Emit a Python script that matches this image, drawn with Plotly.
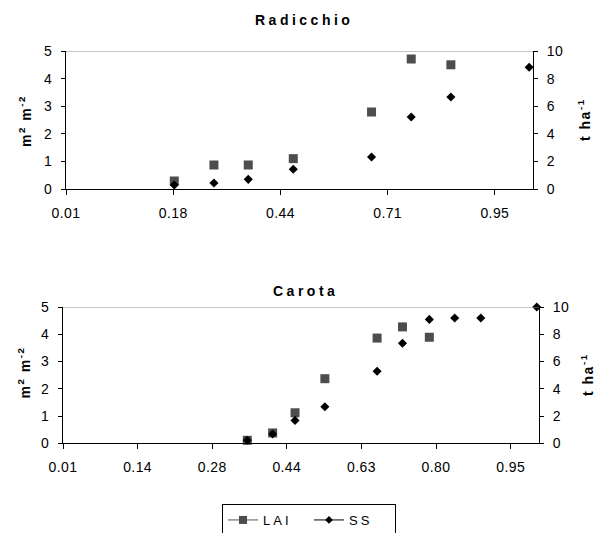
import plotly.graph_objects as go

# ---- data (x in positions along the evenly-spaced labelled axis) ----
rad_ticklabels = ["0.01", "0.18", "0.44", "0.71", "0.95"]
rad_x_lai = [1.01, 1.38, 1.70, 2.12, 2.85, 3.22, 3.59]
rad_lai = [0.29, 0.87, 0.87, 1.10, 2.79, 4.71, 4.50]
rad_x_ss = [1.01, 1.38, 1.70, 2.12, 2.85, 3.22, 3.59, 4.32]
rad_ss = [0.29, 0.43, 0.70, 1.43, 2.32, 5.22, 6.67, 8.82]

car_ticklabels = ["0.01", "0.14", "0.28", "0.44", "0.63", "0.80", "0.95"]
car_x_lai = [2.47, 2.81, 3.11, 3.51, 4.21, 4.55, 4.91]
car_lai = [0.11, 0.38, 1.12, 2.37, 3.86, 4.27, 3.89]
car_x_ss = [2.47, 2.81, 3.11, 3.51, 4.21, 4.55, 4.91, 5.25, 5.60, 6.35]
car_ss = [0.22, 0.68, 1.68, 2.68, 5.29, 7.34, 9.09, 9.19, 9.19, 10.0]

left_ticks = [0, 1, 2, 3, 4, 5]
right_ticks = [0, 2, 4, 6, 8, 10]

FONT = "Arial, Liberation Sans, sans-serif"
W, H = 602, 533
LAI_COLOR = "#4d4d4d"
SS_COLOR = "#000000"


def sp(t, ls=2):
    return f'<span style="letter-spacing:{ls}px">{t}</span>'


fig = go.Figure()

sq = dict(symbol="square", size=9, color=LAI_COLOR)
dm = dict(symbol="diamond", size=7, color=SS_COLOR)

fig.add_trace(go.Scatter(x=rad_x_lai, y=rad_lai, mode="markers", marker=sq,
                         xaxis="x", yaxis="y", showlegend=False, cliponaxis=False))
fig.add_trace(go.Scatter(x=rad_x_ss, y=rad_ss, mode="markers", marker=dm,
                         xaxis="x", yaxis="y2", showlegend=False, cliponaxis=False))
fig.add_trace(go.Scatter(x=car_x_lai, y=car_lai, mode="markers", marker=sq,
                         xaxis="x2", yaxis="y3", showlegend=False, cliponaxis=False))
fig.add_trace(go.Scatter(x=car_x_ss, y=car_ss, mode="markers", marker=dm,
                         xaxis="x2", yaxis="y4", showlegend=False, cliponaxis=False))
# legend entries
fig.add_trace(go.Scatter(x=[None], y=[None], mode="lines+markers", name=sp("LAI", 3),
                         marker=dict(symbol="square", size=8, color=LAI_COLOR),
                         line=dict(color="#555555", width=1), xaxis="x", yaxis="y"))
fig.add_trace(go.Scatter(x=[None], y=[None], mode="lines+markers", name=sp("SS", 3),
                         marker=dict(symbol="diamond", size=6, color=SS_COLOR),
                         line=dict(color="#000000", width=1), xaxis="x", yaxis="y"))

# domains (pixels -> paper)
top_x = [66 / W, 533 / W]
top_y = [1 - 189 / H, 1 - 51 / H]
bot_x = [63 / W, 539 / W]
bot_y = [1 - 443.3 / H, 1 - 307 / H]

rad_range = [0, 4.356]
car_range = [0, 6.38]

tickfont = dict(family=FONT, size=14, color="#000")


def xax(domain, anchor, rng, labels, ticks="outside", overlay=None, show=True):
    d = dict(domain=domain, anchor=anchor, range=rng, tickmode="array",
             tickvals=list(range(len(labels))),
             ticktext=[sp(t, 0.4) for t in labels], ticks=ticks, ticklen=5,
             tickcolor="#000", tickwidth=1, showgrid=False, zeroline=False,
             showline=show, linecolor="#000", linewidth=1,
             showticklabels=show, tickfont=tickfont, ticklabelstandoff=6)
    if overlay:
        d["overlaying"] = overlay
        d.pop("domain")
    return d


def yax(domain, anchor, vals, side, ticks="outside", overlay=None, show=True):
    d = dict(domain=domain, anchor=anchor, range=[vals[0], vals[-1]],
             tickmode="array", tickvals=vals, ticktext=[sp(str(v), 0.4) for v in vals],
             side=side, ticks=ticks, ticklen=4, tickcolor="#000", tickwidth=1,
             showgrid=False, zeroline=False, showline=show, linecolor="#000",
             linewidth=1, showticklabels=show, tickfont=tickfont,
             ticklabelstandoff=6)
    if overlay:
        d["overlaying"] = overlay
        d.pop("domain")
    return d


fig.update_layout(
    width=W, height=H,
    margin=dict(l=0, r=0, t=0, b=0, autoexpand=False),
    paper_bgcolor="white", plot_bgcolor="white",
    font=dict(family=FONT, color="#000"),
    xaxis=xax(top_x, "y", rad_range, rad_ticklabels),
    yaxis=yax(top_y, "x", left_ticks, "left"),
    yaxis2=yax(top_y, "x", right_ticks, "right", overlay="y"),
    xaxis2=xax(bot_x, "y3", car_range, car_ticklabels),
    yaxis3=yax(bot_y, "x2", left_ticks, "left"),
    yaxis4=yax(bot_y, "x2", right_ticks, "right", overlay="y3"),
    # inside tick overlays (cross ticks)
    xaxis3=xax(top_x, "y", rad_range, rad_ticklabels, ticks="inside", overlay="x", show=False),
    xaxis4=xax(bot_x, "y3", car_range, car_ticklabels, ticks="inside", overlay="x2", show=False),
    yaxis5=yax(top_y, "x", left_ticks, "left", ticks="inside", overlay="y", show=False),
    yaxis6=yax(top_y, "x", right_ticks, "right", ticks="inside", overlay="y", show=False),
    yaxis7=yax(bot_y, "x2", left_ticks, "left", ticks="inside", overlay="y3", show=False),
    yaxis8=yax(bot_y, "x2", right_ticks, "right", ticks="inside", overlay="y3", show=False),
    legend=dict(orientation="h", x=222 / W, xanchor="left", y=1 - 504 / H, yanchor="top",
                bordercolor="#000", borderwidth=1, bgcolor="white",
                font=dict(family=FONT, size=13, color="#000"),
                itemwidth=30, tracegroupgap=0, entrywidth=41, entrywidthmode="pixels"),
    showlegend=True,
)

# gray line on top of each plot area
fig.add_shape(type="line", xref="x domain", yref="y", x0=0, x1=1, y0=5, y1=5,
              line=dict(color="#8c8c8c", width=1))
fig.add_shape(type="line", xref="x2 domain", yref="y3", x0=0, x1=1, y0=5, y1=5,
              line=dict(color="#8c8c8c", width=1))

bold = dict(family=FONT, size=14, color="#000", weight="bold")
lab = dict(family=FONT, size=14, color="#000", weight="bold")
ann = [
    dict(text=sp("Radicchio", 3.5), x=304 / W, y=1 - 19.5 / H, font=bold),
    dict(text=sp("Carota", 3.5), x=305.5 / W, y=1 - 291 / H, font=bold),
    dict(text=sp("m<sup>2</sup> m<sup>-2</sup>", 1.5), x=25 / W, y=1 - 121 / H, font=lab, textangle=-90),
    dict(text=sp("m<sup>2</sup> m<sup>-2</sup>", 1.5), x=24.5 / W, y=1 - 373 / H, font=lab, textangle=-90),
    dict(text=sp("t ha<sup>-1</sup>", 1.5), x=584 / W, y=1 - 120 / H, font=lab, textangle=-90),
    dict(text=sp("t ha<sup>-1</sup>", 1.5), x=587 / W, y=1 - 375 / H, font=lab, textangle=-90),
]
for a in ann:
    fig.add_annotation(xref="paper", yref="paper", showarrow=False,
                       xanchor="center", yanchor="middle", **a)

fig.write_html("out.html", config={"displayModeBar": False},
               post_script="document.body.style.margin='0';document.body.style.overflow='hidden';")
